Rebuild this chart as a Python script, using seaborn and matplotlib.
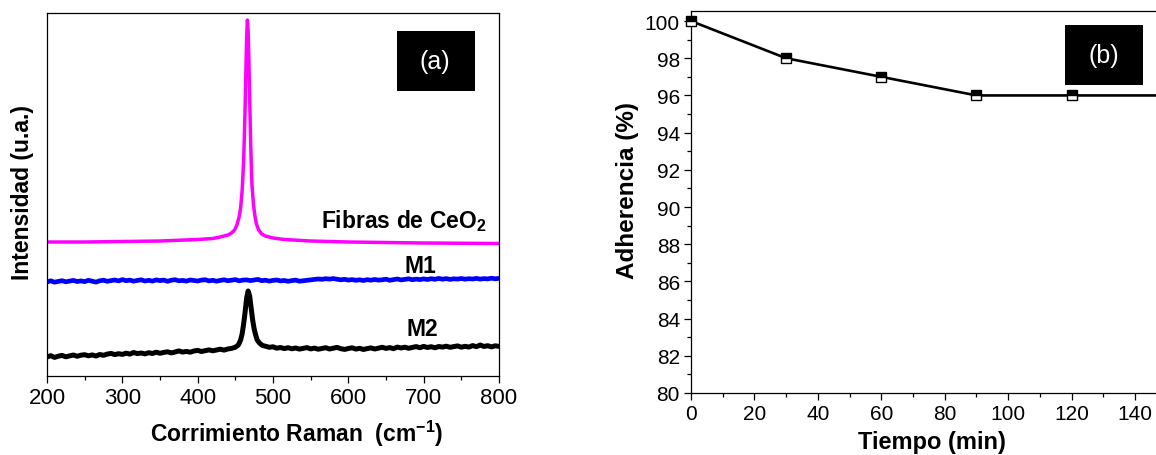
import matplotlib
matplotlib.use("Agg")
import matplotlib.pyplot as plt
from matplotlib.patches import Rectangle
from matplotlib.ticker import MultipleLocator
import seaborn as sns
import pandas as pd

# ---------------- data: panel (a) Raman spectra (arbitrary units) ----------------
fib_x = [200, 250, 300, 350, 400, 420, 430, 440, 445, 449, 452, 455, 457, 459, 461, 462,
         463, 464, 465, 466, 467, 468, 469, 470, 471, 472, 474, 476, 478, 481, 485, 490,
         500, 515, 550, 600, 700, 800]
fib_y = [134.0, 134.0, 134.5, 135.0, 136.5, 137.5, 139.0, 141.0, 143.0, 146.0, 151.0, 159.0,
         168.0, 185.0, 215.0, 240.0, 270.0, 305.0, 338.0, 356.0, 345.0, 315.0, 280.0, 245.0,
         215.0, 192.0, 172.0, 160.0, 152.0, 146.0, 142.0, 140.0, 138.0, 136.5, 135.0, 134.0,
         133.0, 132.5]

m1_x = list(range(200, 805, 5))
m1_y = [94.0, 95.2, 93.8, 94.6, 95.3, 94.2, 94.9, 95.6, 94.5, 95.1, 94.4, 95.7, 94.8, 93.9,
        95.2, 95.8, 94.7, 95.4, 96.0, 95.1, 96.4, 95.3, 95.9, 94.8, 95.6, 96.2, 95.0, 95.7,
        94.9, 96.1, 95.4, 95.9, 94.7, 95.8, 96.3, 95.2, 95.6, 94.9, 96.0, 95.5, 95.0, 95.9,
        96.3, 95.1, 95.7, 94.8, 95.6, 96.2, 95.3, 95.8, 96.4, 95.2, 95.9, 96.1, 95.4, 96.0,
        96.6, 95.3, 95.8, 94.9, 95.6, 96.0, 95.1, 95.5, 94.7, 95.4, 95.9, 94.8, 95.2, 95.7,
        96.1, 96.6, 97.0, 96.7, 97.3, 96.9, 97.4, 96.8, 96.2, 96.7, 95.9, 96.4, 95.7, 96.2,
        95.5, 96.3, 95.8, 96.5, 95.9, 96.2, 96.8, 95.7, 96.4, 97.0, 96.1, 96.6, 97.2, 96.3,
        96.9, 96.4, 97.1, 96.5, 97.3, 96.7, 97.6, 96.8, 97.4, 96.6, 97.2, 96.9, 97.5, 96.8,
        97.3, 97.0, 97.6, 96.9, 97.4, 97.1, 97.8, 97.2, 97.6]

m2_x = [200, 205, 210, 215, 220, 225, 230, 235, 240, 245, 250, 255, 260, 265, 270, 275,
        280, 285, 290, 295, 300, 305, 310, 315, 320, 325, 330, 335, 340, 345, 350, 355,
        360, 365, 370, 375, 380, 385, 390, 395, 400, 405, 410, 415, 420, 425, 430, 435,
        440, 445, 450, 454, 457, 459, 461, 463, 465, 467, 469, 471, 473, 475, 477, 479,
        482, 486, 490, 495, 500, 505, 510, 515, 520, 525, 530, 535, 540, 545, 550, 555,
        560, 565, 570, 575, 580, 585, 590, 595, 600, 605, 610, 615, 620, 625, 630, 635,
        640, 645, 650, 655, 660, 665, 670, 675, 680, 685, 690, 695, 700, 705, 710, 715,
        720, 725, 730, 735, 740, 745, 750, 755, 760, 765, 770, 775, 780, 785, 790, 795, 800]
m2_y = [19.0, 20.3, 18.6, 19.8, 20.6, 19.2, 20.1, 21.0, 19.7, 20.8, 21.3, 20.2, 21.1, 20.0,
        21.5, 20.7, 21.9, 22.6, 21.4, 22.3, 21.6, 22.8, 21.9, 23.5, 22.4, 23.0, 22.1, 23.3,
        22.5, 23.8, 22.7, 23.6, 24.2, 23.1, 24.0, 25.1, 23.9, 24.6, 23.8, 25.0, 25.6, 24.5,
        25.3, 26.1, 25.2, 26.0, 26.8, 25.9, 27.0, 27.6, 28.8, 31.0, 36.0, 42.0, 52.0, 64.0,
        78.0, 85.0, 80.0, 68.0, 56.0, 47.0, 41.0, 36.0, 33.0, 30.5, 29.8, 28.7, 29.2, 27.8,
        28.5, 27.4, 28.3, 27.2, 28.0, 26.9, 27.7, 28.4, 27.1, 27.9, 26.8, 27.6, 28.3, 27.0,
        27.8, 28.6, 27.3, 26.6, 27.5, 28.2, 26.9, 27.7, 26.5, 27.4, 28.1, 27.0, 27.9, 28.7,
        27.6, 28.4, 27.3, 28.9, 28.0, 28.8, 27.7, 28.6, 29.4, 28.3, 29.6, 28.5, 29.3, 28.2,
        29.5, 28.9, 29.8, 28.7, 29.4, 30.1, 28.8, 29.7, 28.9, 30.4, 29.3, 31.0, 29.5, 30.3,
        29.1, 30.2, 29.6]

raman_ticks = [200, 300, 400, 500, 600, 700, 800]

# ---------------- data: panel (b) adherence ----------------
tiempo = [0, 30, 60, 90, 120, 150]
adherencia = [100, 98, 97, 96, 96, 96]
adh_yticks = [80, 82, 84, 86, 88, 90, 92, 94, 96, 98, 100]
adh_xticks = [0, 20, 40, 60, 80, 100, 120, 140]

# ---------------- style ----------------
sns.set_style("ticks")
plt.rcParams['font.family'] = ['Liberation Sans', 'DejaVu Sans']
plt.rcParams['mathtext.fontset'] = 'custom'
plt.rcParams['mathtext.rm'] = 'Liberation Sans'
plt.rcParams['mathtext.bf'] = 'Liberation Sans:bold'
plt.rcParams['axes.linewidth'] = 0.9
plt.rcParams['axes.edgecolor'] = 'black'
plt.rcParams['text.color'] = 'black'
plt.rcParams['axes.labelcolor'] = 'black'
plt.rcParams['xtick.color'] = 'black'
plt.rcParams['ytick.color'] = 'black'

W, H = 1156, 456
fig = plt.figure(figsize=(W / 100, H / 100), dpi=100)

def ax_rect(l, t, r, b):
    return [l / W, 1 - b / H, (r - l) / W, (b - t) / H]

# ---------------- panel (a) ----------------
axa = fig.add_axes(ax_rect(47, 14, 499, 377))
sns.lineplot(x=fib_x, y=fib_y, ax=axa, color='#ff00ff', linewidth=2.5, estimator=None, sort=False)
sns.lineplot(x=m1_x, y=m1_y, ax=axa, color='#0000ff', linewidth=3.4, estimator=None, sort=False)
sns.lineplot(x=m2_x, y=m2_y, ax=axa, color='black', linewidth=3.6, estimator=None, sort=False)
axa.set_xlim(200, 800)
axa.set_ylim(0, 363)
axa.set_xticks(raman_ticks)
axa.xaxis.set_minor_locator(MultipleLocator(50))
axa.set_yticks([])
axa.tick_params(axis='x', which='major', direction='out', length=5, width=0.9,
                labelsize=16, pad=3, colors='black')
axa.tick_params(axis='x', which='minor', direction='out', length=3, width=0.9)
for s in axa.spines.values():
    s.set_visible(True)
    s.set_color('black')

axa.text(783, 149, r'Fibras de CeO$_\mathbf{2}$', fontsize=16.5, fontweight='bold',
         ha='right', va='baseline')
axa.text(695, 104, 'M1', fontsize=16.5, fontweight='bold', ha='center', va='baseline')
axa.text(698, 41, 'M2', fontsize=16.5, fontweight='bold', ha='center', va='baseline')

axa.add_patch(Rectangle((0.774, 0.785), 0.1726, 0.165, transform=axa.transAxes,
                        facecolor='black', edgecolor='none', zorder=5))
axa.text(0.859, 0.868, '(a)', transform=axa.transAxes, color='white', fontsize=18,
         ha='center', va='center', zorder=6)

axa.set_xlabel(r'Corrimiento Raman  (cm$^\mathbf{-1}$)', fontsize=16.5, fontweight='bold',
               va='baseline', ha='center')
axa.xaxis.set_label_coords(0.553, -0.179)
axa.set_ylabel('Intensidad (u.a.)', fontsize=16.5, fontweight='bold', va='center', ha='center')
axa.yaxis.set_label_coords(-0.0553, 0.507)

# ---------------- panel (b) ----------------
axb = fig.add_axes(ax_rect(691, 12, 1156, 394))
df_b = pd.DataFrame({'Tiempo': tiempo, 'Adherencia': adherencia})
sns.lineplot(data=df_b, x='Tiempo', y='Adherencia', ax=axb, color='black', linewidth=1.9,
             estimator=None, sort=False)
axb.plot(df_b['Tiempo'], df_b['Adherencia'], linestyle='none', marker='s', markersize=6.5,
         markeredgecolor='black', markerfacecolor='black', markerfacecoloralt='white',
         fillstyle='top', markeredgewidth=1.0, zorder=4, clip_on=False)
axb.set_xlim(0, 146.6)
axb.set_ylim(80, 100.54)
axb.set_xticks(adh_xticks)
axb.set_yticks(adh_yticks)
axb.xaxis.set_minor_locator(MultipleLocator(10))
axb.yaxis.set_minor_locator(MultipleLocator(1))
axb.tick_params(which='major', direction='out', length=5, width=0.9, labelsize=15, pad=3,
                colors='black')
axb.tick_params(which='minor', direction='out', length=3, width=0.9)
axb.spines['right'].set_visible(False)
for s in ['left', 'top', 'bottom']:
    axb.spines[s].set_visible(True)
    axb.spines[s].set_color('black')

axb.add_patch(Rectangle((0.804, 0.806), 0.168, 0.157, transform=axb.transAxes,
                        facecolor='black', edgecolor='none', zorder=5))
axb.text(0.888, 0.885, '(b)', transform=axb.transAxes, color='white', fontsize=18,
         ha='center', va='center', zorder=6)

axb.set_xlabel('Tiempo (min)', fontsize=17, fontweight='bold', va='baseline', ha='center')
axb.xaxis.set_label_coords(0.518, -0.144)
axb.set_ylabel('Adherencia (%)', fontsize=17.5, fontweight='bold', va='center', ha='center')
axb.yaxis.set_label_coords(-0.1376, 0.534)

fig.savefig('out.png', dpi=100)
